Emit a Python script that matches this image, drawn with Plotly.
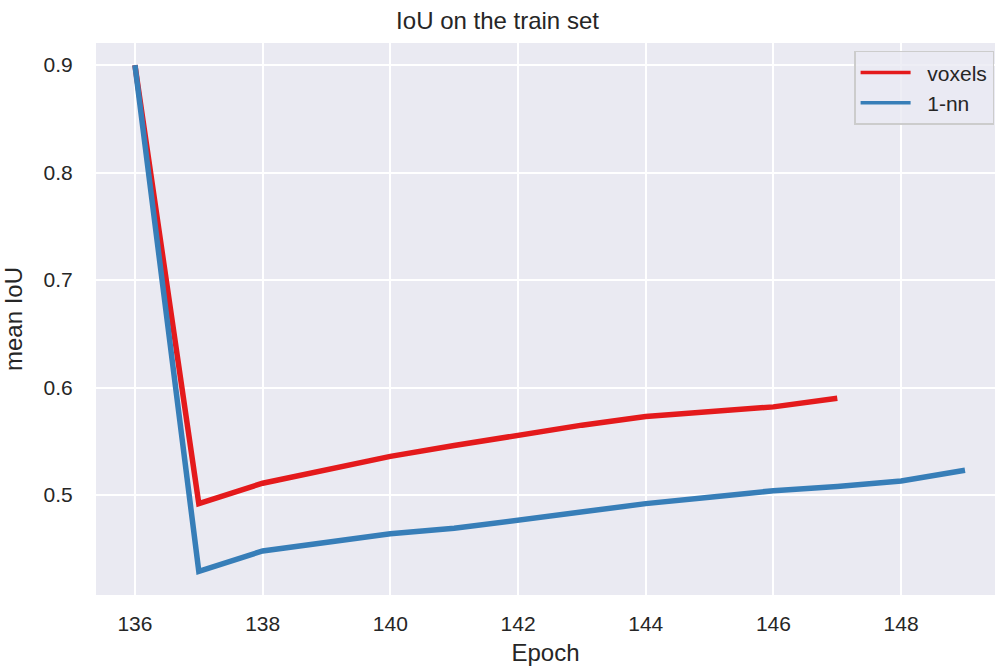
import plotly.graph_objects as go

# Mean IoU per epoch on the training set
epochs_voxels = [136, 137, 138, 139, 140, 141, 142, 143, 144, 145, 146, 147]
iou_voxels = [0.900, 0.492, 0.511, 0.524, 0.536, 0.546, 0.556, 0.565, 0.573, 0.578, 0.582, 0.590]

epochs_nn = [136, 137, 138, 139, 140, 141, 142, 143, 144, 145, 146, 147, 148, 149]
iou_nn = [0.900, 0.429, 0.448, 0.456, 0.464, 0.469, 0.477, 0.484, 0.492, 0.498, 0.504, 0.508, 0.513, 0.523]

series_names = ["voxels", "1-nn"]
series_colors = ["#e41a1c", "#377eb8"]

x_ticks = [136, 138, 140, 142, 144, 146, 148]
y_ticks = [0.5, 0.6, 0.7, 0.8, 0.9]

FONT = "Liberation Sans, Arial, sans-serif"
TEXT = "#262626"
PAD = "\u00a0\u00a0"  # extra gap between legend handle and label

fig = go.Figure()
for xs, ys, name, color in zip([epochs_voxels, epochs_nn], [iou_voxels, iou_nn],
                               series_names, series_colors):
    # the plotted curve
    fig.add_trace(go.Scatter(
        x=xs, y=ys, mode="lines", name=name, showlegend=False,
        line=dict(color=color, width=5.5),
    ))
    # thinner handle for the legend
    fig.add_trace(go.Scatter(
        x=[None], y=[None], mode="lines", name=PAD + name, showlegend=True,
        line=dict(color=color, width=3.5),
    ))

fig.update_layout(
    width=995, height=671,
    margin=dict(l=96, r=0, t=43, b=76),
    paper_bgcolor="white",
    plot_bgcolor="#EAEAF2",
    font=dict(family=FONT, color=TEXT, size=21),
    title=dict(text="IoU on the train set", x=0.5, xanchor="center",
               y=0.97, yanchor="middle", font=dict(size=24, color=TEXT)),
    showlegend=True,
    legend=dict(
        x=0.999, y=0.986, xanchor="right", yanchor="top",
        bgcolor="rgba(234,234,242,0.8)", bordercolor="#CCCCCC", borderwidth=1.5,
        font=dict(size=21, color=TEXT),
        itemwidth=50,
    ),
    xaxis=dict(
        range=[135.39, 149.47],
        tickvals=x_ticks,
        showgrid=True, gridcolor="white", gridwidth=1.5,
        zeroline=False, showline=False,
        ticks="outside", ticklen=10, tickcolor="rgba(0,0,0,0)",
        tickfont=dict(size=21),
        title=dict(text="Epoch", font=dict(size=24), standoff=9),
    ),
    yaxis=dict(
        range=[0.407, 0.9205],
        tickvals=y_ticks,
        tickformat=".1f",
        showgrid=True, gridcolor="white", gridwidth=1.5,
        zeroline=False, showline=False,
        ticks="outside", ticklen=18, tickcolor="rgba(0,0,0,0)",
        tickfont=dict(size=21),
        title=dict(text="mean IoU", font=dict(size=24), standoff=14),
    ),
)

fig.write_html("out.html")
